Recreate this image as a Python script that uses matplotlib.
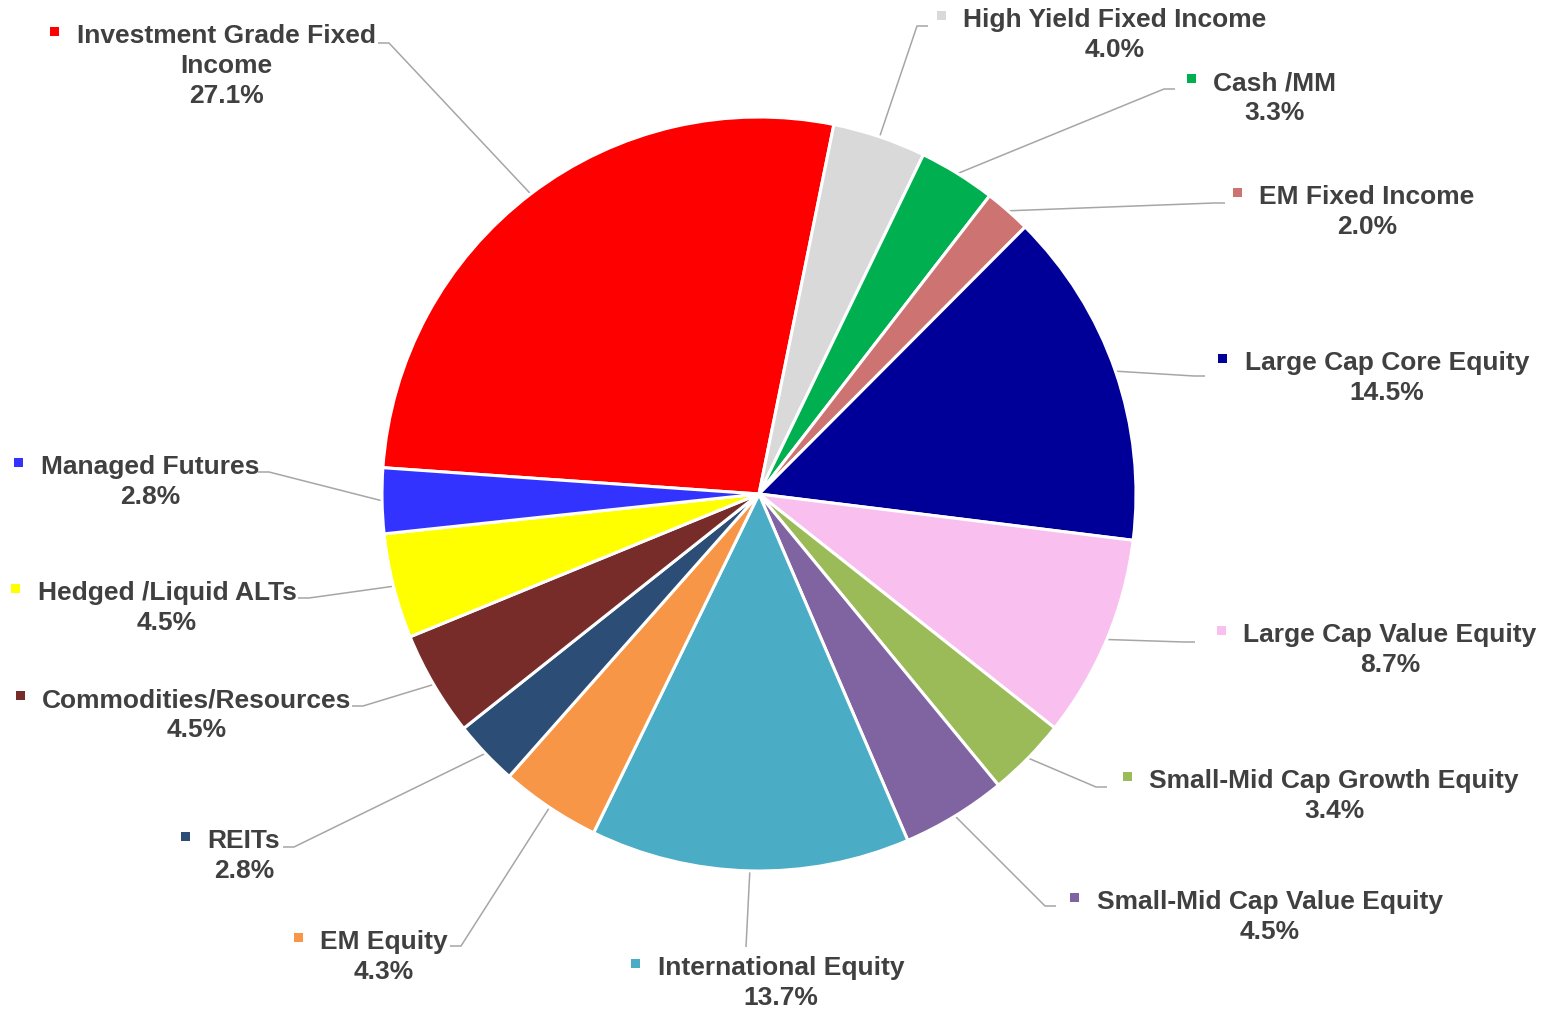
import matplotlib
matplotlib.use("Agg")
import matplotlib.pyplot as plt
from matplotlib.patches import Rectangle
import numpy as np

# Asset allocation (percent of portfolio), clockwise from Investment Grade
categories = [
    "Investment Grade Fixed\nIncome",
    "High Yield Fixed Income",
    "Cash /MM",
    "EM Fixed Income",
    "Large Cap Core Equity",
    "Large Cap Value Equity",
    "Small-Mid Cap Growth Equity",
    "Small-Mid Cap Value Equity",
    "International Equity",
    "EM Equity",
    "REITs",
    "Commodities/Resources",
    "Hedged /Liquid ALTs",
    "Managed Futures",
]
weights = [27.1, 4.0, 3.3, 2.0, 14.5, 8.7, 3.4, 4.5, 13.7, 4.3, 2.8, 4.5, 4.5, 2.8]
colors = [
    "#FF0000", "#D9D9D9", "#00B050", "#CD7371", "#000099", "#F9C0EF", "#9BBB59",
    "#8064A2", "#4BACC6", "#F79646", "#2C4D75", "#772C2A", "#FFFF00", "#3333FF",
]

# Label layout in pixel space (origin top-left):
# text centre x, first-line centre y, leader-line end x, leader-line end y
label_layout = [
    (226, 36, 378, 44),
    (1115, 20, 928, 27),
    (1275, 83, 1175, 90),
    (1367, 197, 1225, 204),
    (1387, 363, 1205, 377),
    (1390, 635, 1195, 643),
    (1334, 781, 1107, 788),
    (1270, 902, 1056, 907),
    (781, 968, 746, 948),
    (384, 942, 450, 947),
    (244, 841, 283, 848),
    (197, 700, 352, 707),
    (167, 593, 298, 599),
    (150, 467, 258, 473),
]

W, H = 1549, 1012
CX, CY, R = 759, 495, 377
LINE_STEP = 30
TEXT_COLOR = "#404040"
LEADER_COLOR = "#A6A6A6"
FONT = dict(family=["Liberation Sans", "DejaVu Sans"], weight="bold", size=19)


def fy(y):
    """Convert a top-origin pixel y into axes data y."""
    return H - y


fig = plt.figure(figsize=(W / 100, H / 100), dpi=100)
ax = fig.add_axes([0, 0, 1, 1])

wedges, _ = ax.pie(
    weights,
    colors=colors,
    startangle=176.0,
    counterclock=False,
    center=(CX, fy(CY)),
    radius=R,
    wedgeprops=dict(edgecolor="white", linewidth=2.2),
)
ax.set_xlim(0, W)
ax.set_ylim(0, H)
ax.set_aspect("equal")
ax.axis("off")

renderer = fig.canvas.get_renderer()

for wedge, name, value, color, (tx, ty, ex, ey) in zip(
    wedges, categories, weights, colors, label_layout
):
    # Text lines: category name (possibly wrapped) then percentage
    lines = name.split("\n")
    first_text = None
    for i, line in enumerate(lines):
        t = ax.text(tx, fy(ty + i * LINE_STEP), line, ha="center", va="center",
                    color=TEXT_COLOR, **FONT)
        if i == 0:
            first_text = t
    ax.text(tx, fy(ty + len(lines) * LINE_STEP), f"{value:.1f}%", ha="center",
            va="center", color=TEXT_COLOR, **FONT)

    # Legend key square left of the first line
    bb = first_text.get_window_extent(renderer)
    ks = 9
    kx = bb.x0 - 22 - ks / 2
    ky = fy(ty - 4) - ks / 2
    ax.add_patch(Rectangle((kx, ky), ks, ks, facecolor=color, edgecolor="none"))

    # Leader line from the wedge's mid-angle on the rim to the label
    mid = np.deg2rad((wedge.theta1 + wedge.theta2) / 2)
    sx = CX + R * np.cos(mid)
    sy = fy(CY) + R * np.sin(mid)
    if abs(ex - CX) < 60:
        xs = [sx, ex]
        ys = [sy, fy(ey)]
    else:
        elbow = ex - 11 if ex > CX else ex + 11
        xs = [sx, elbow, ex]
        ys = [sy, fy(ey), fy(ey)]
    ax.plot(xs, ys, color=LEADER_COLOR, lw=1.1, solid_capstyle="butt", zorder=0.5)

fig.savefig("out.png", dpi=100, facecolor="white")
